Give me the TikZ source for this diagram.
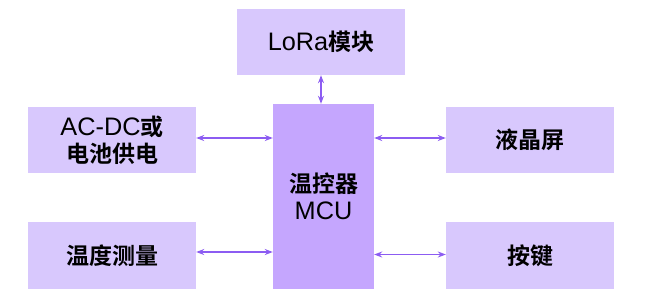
\documentclass[tikz,border=0pt]{standalone}
\usepackage{fontspec}
\setmainfont{Liberation Sans}[Scale=1.1]
\newfontfamily\cjk{Noto Sans CJK SC}[BoldFont=* Bold]
\usetikzlibrary{arrows.meta}
\definecolor{boxlight}{RGB}{216,200,253}
\definecolor{boxmcu}{RGB}{197,166,254}
\definecolor{arrowc}{RGB}{140,92,242}
\newcommand{\zh}[1]{{\cjk\bfseries #1}}
\begin{document}
\begin{tikzpicture}[x=1pt,y=-1pt,
  blk/.style={fill=boxlight,draw=none,inner sep=0pt,align=center,font=\fontsize{23}{27}\selectfont,text=black},
  mcublk/.style={blk,fill=boxmcu},
  arr/.style={draw=arrowc,line width=1.2pt,{Stealth[length=8pt,width=6pt]}-{Stealth[length=8pt,width=6pt]}}]
\useasboundingbox (0,0) rectangle (650,306);
\node[blk,minimum width=168,minimum height=66] (lora) at (321,42) {LoRa\zh{模块}};
\node[mcublk,minimum width=101,minimum height=185] (mcu) at (323.5,196.5) {\zh{温控器}\\MCU};
\node[blk,minimum width=168,minimum height=66] (acdc) at (112,140) {AC-DC\zh{或}\\\zh{电池供电}};
\node[blk,minimum width=168,minimum height=67] (temp) at (112,255.5) {\zh{温度测量}};
\node[blk,minimum width=168,minimum height=66] (lcd) at (530,140) {\zh{液晶屏}};
\node[blk,minimum width=168,minimum height=67] (key) at (530,255.5) {\zh{按键}};
\draw[arr] (lora.south) -- (lora.south |- mcu.north);
\draw[arr] ([yshift=2]acdc.east) -- ([yshift=2]acdc.east -| mcu.west);
\draw[arr] ([yshift=3.5]temp.east) -- ([yshift=3.5]temp.east -| mcu.west);
\draw[arr] ([yshift=2]lcd.west) -- ([yshift=2]lcd.west -| mcu.east);
\draw[arr] ([yshift=1]key.west) -- ([yshift=1]key.west -| mcu.east);
\end{tikzpicture}
\end{document}
